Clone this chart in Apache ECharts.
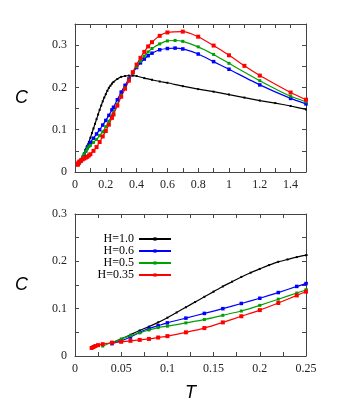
<!DOCTYPE html>
<html>
<head>
<meta charset="utf-8">
<script src="https://cdn.jsdelivr.net/npm/echarts@6/dist/echarts.min.js"></script>
<style>
    html, body { margin: 0; padding: 0; background: #fff; }
    #chart { width: 344px; height: 403px; }
</style>
</head>
<body>
<div id="chart"></div>
<script>
'use strict';

// [T, C]
var h10 = [
    [0.04, 0.028], [0.05, 0.036], [0.06, 0.045], [0.07, 0.054], [0.08, 0.062],
    [0.09, 0.071], [0.1, 0.081], [0.11, 0.092], [0.12, 0.103], [0.13, 0.114],
    [0.14, 0.125], [0.15, 0.136], [0.16, 0.147], [0.17, 0.157], [0.18, 0.167],
    [0.19, 0.176], [0.2, 0.184], [0.21, 0.192], [0.22, 0.199], [0.23, 0.204],
    [0.24, 0.209], [0.25, 0.213], [0.275, 0.220], [0.3, 0.225], [0.325, 0.227],
    [0.35, 0.228], [0.375, 0.228], [0.4, 0.227], [0.45, 0.222], [0.5, 0.218],
    [0.55, 0.214], [0.6, 0.211], [0.7, 0.203], [0.8, 0.196], [0.9, 0.190],
    [1.0, 0.183], [1.1, 0.176], [1.2, 0.169], [1.3, 0.163], [1.4, 0.156], [1.5, 0.148]
];
var h06 = [
    [0.04, 0.026], [0.05, 0.032], [0.06, 0.040], [0.07, 0.050], [0.08, 0.058],
    [0.09, 0.064], [0.1, 0.070], [0.12, 0.080], [0.14, 0.090], [0.16, 0.100],
    [0.18, 0.111], [0.2, 0.122], [0.22, 0.134], [0.24, 0.147], [0.25, 0.153],
    [0.275, 0.171], [0.3, 0.189], [0.325, 0.205], [0.35, 0.220], [0.375, 0.235],
    [0.4, 0.247], [0.425, 0.258], [0.45, 0.267], [0.475, 0.275], [0.5, 0.281],
    [0.55, 0.289], [0.6, 0.292], [0.65, 0.293], [0.7, 0.291], [0.8, 0.279],
    [0.9, 0.261], [1.0, 0.243], [1.2, 0.206], [1.4, 0.174], [1.5, 0.161]
];
var h05 = [
    [0.03, 0.021], [0.04, 0.029], [0.05, 0.036], [0.06, 0.043], [0.07, 0.049],
    [0.08, 0.055], [0.09, 0.060], [0.1, 0.063], [0.12, 0.070], [0.14, 0.077],
    [0.16, 0.086], [0.18, 0.095], [0.2, 0.107], [0.22, 0.120], [0.24, 0.133],
    [0.25, 0.140], [0.275, 0.160], [0.3, 0.181], [0.325, 0.199], [0.35, 0.217],
    [0.375, 0.234], [0.4, 0.249], [0.425, 0.262], [0.45, 0.274], [0.475, 0.284],
    [0.5, 0.292], [0.55, 0.303], [0.6, 0.310], [0.65, 0.311], [0.7, 0.309],
    [0.8, 0.296], [0.9, 0.278], [1.0, 0.257], [1.2, 0.216], [1.4, 0.179], [1.5, 0.166]
];
var h035 = [
    [0.018, 0.017], [0.02, 0.019], [0.022, 0.021], [0.025, 0.023], [0.03, 0.025],
    [0.04, 0.028], [0.05, 0.030], [0.06, 0.032], [0.07, 0.034], [0.08, 0.036],
    [0.09, 0.039], [0.1, 0.042], [0.12, 0.050], [0.14, 0.059], [0.16, 0.071],
    [0.18, 0.084], [0.2, 0.097], [0.22, 0.112], [0.24, 0.128], [0.25, 0.136],
    [0.275, 0.157], [0.3, 0.178], [0.325, 0.197], [0.35, 0.216], [0.375, 0.236],
    [0.4, 0.254], [0.425, 0.270], [0.45, 0.284], [0.475, 0.297], [0.5, 0.307],
    [0.55, 0.322], [0.6, 0.330], [0.7, 0.332], [0.8, 0.320], [0.9, 0.299],
    [1.0, 0.276], [1.1, 0.251], [1.2, 0.228], [1.4, 0.188], [1.5, 0.171]
];

var names = ['H=1.0', 'H=0.6', 'H=0.5', 'H=0.35'];
var colors = ['#000000', '#0000ff', '#00a000', '#ff0000'];
var sizes = [2, 3.5, 3, 4];
var sets = [h10, h06, h05, h035];

var serif = 'Liberation Serif';
var frame = '#444';

function tickLabel(step) {
    // label only every other tick
    return function (v) {
        var k = Math.round(v / step);
        return k % 2 === 0 ? String(+v.toFixed(3)) : '';
    };
}

function xAxes(gridIndex, max, interval, labelStep) {
    return [{
        gridIndex: gridIndex,
        type: 'value',
        min: 0,
        max: max,
        interval: interval,
        position: 'bottom',
        axisLine: { onZero: false, lineStyle: { color: frame, width: 1 } },
        axisTick: { inside: true, length: 4, lineStyle: { color: frame } },
        axisLabel: {
            fontFamily: serif, fontSize: 12, color: '#222', margin: 7,
            formatter: tickLabel(labelStep), showMaxLabel: true, showMinLabel: true
        },
        splitLine: { show: false }
    }, {
        gridIndex: gridIndex,
        type: 'value',
        min: 0,
        max: max,
        interval: interval,
        position: 'top',
        axisLine: { onZero: false, lineStyle: { color: frame, width: 1 } },
        axisTick: { inside: true, length: 4, lineStyle: { color: frame } },
        axisLabel: { show: false },
        splitLine: { show: false }
    }];
}

function yAxes(gridIndex, max) {
    return [{
        gridIndex: gridIndex,
        type: 'value',
        min: 0,
        max: max,
        interval: 0.05,
        position: 'left',
        name: 'C',
        nameLocation: 'middle',
        nameGap: 47,
        nameRotate: 0,
        nameTextStyle: { fontFamily: 'Liberation Sans', fontStyle: 'italic', fontSize: 18, color: '#000' },
        axisLine: { onZero: false, lineStyle: { color: frame, width: 1 } },
        axisTick: { inside: true, length: 4, lineStyle: { color: frame } },
        axisLabel: {
            fontFamily: serif, fontSize: 12, color: '#222', margin: 8,
            formatter: tickLabel(0.05)
        },
        splitLine: { show: false }
    }, {
        gridIndex: gridIndex,
        type: 'value',
        min: 0,
        max: max,
        interval: 0.05,
        position: 'right',
        axisLine: { onZero: false, lineStyle: { color: frame, width: 1 } },
        axisTick: { inside: true, length: 4, lineStyle: { color: frame } },
        axisLabel: { show: false },
        splitLine: { show: false }
    }];
}

var xTop = xAxes(0, 1.5, 0.1, 0.1);
var xBot = xAxes(1, 0.25, 0.025, 0.025);
xBot[0].name = 'T';
xBot[0].nameLocation = 'middle';
xBot[0].nameGap = 28;
xBot[0].nameTextStyle = { fontFamily: 'Liberation Sans', fontStyle: 'italic', fontSize: 18, color: '#000' };

var series = [];
[0, 1].forEach(function (g) {
    sets.forEach(function (data, i) {
        series.push({
            name: names[i],
            type: 'line',
            xAxisIndex: g * 2,
            yAxisIndex: g * 2,
            data: data,
            smooth: 0.2,
            clip: true,
            symbol: 'rect',
            symbolSize: sizes[i],
            showSymbol: true,
            color: colors[i],
            lineStyle: { width: 1.2, color: colors[i] },
            itemStyle: { color: colors[i] },
            emphasis: { disabled: true }
        });
    });
});

var chart = echarts.init(document.getElementById('chart'));
chart.setOption({
    animation: false,
    backgroundColor: '#fff',
    grid: [
        { left: 75, top: 24, width: 231, height: 148 },
        { left: 75, top: 214, width: 231, height: 147 }
    ],
    legend: {
        data: names,
        orient: 'vertical',
        align: 'right',
        right: 172,
        top: 233,
        itemWidth: 32,
        itemHeight: 4,
        itemGap: 0,
        padding: 0,
        textStyle: { fontFamily: serif, fontSize: 12, color: '#000', lineHeight: 12 }
    },
    xAxis: xTop.concat(xBot),
    yAxis: yAxes(0, 0.35).concat(yAxes(1, 0.3)),
    series: series
});
</script>
</body>
</html>
